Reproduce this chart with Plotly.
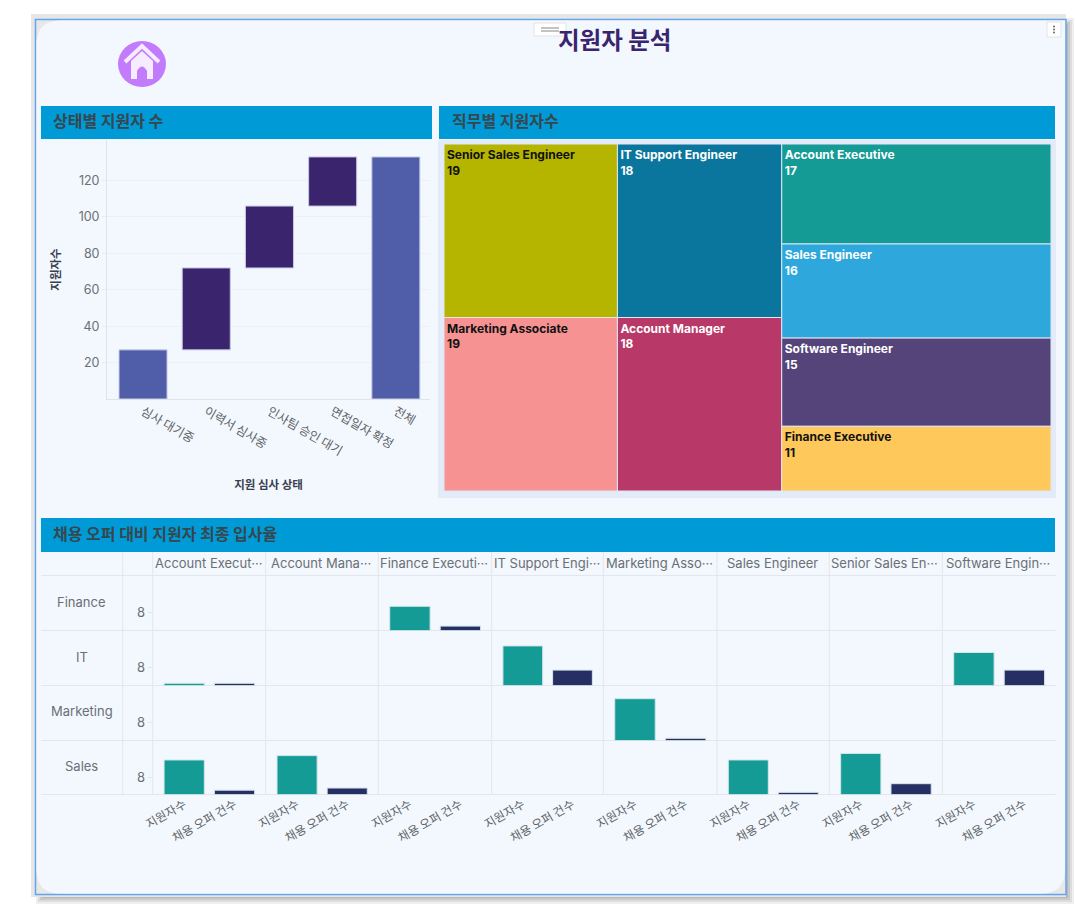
import plotly.graph_objects as go

W, H = 1076, 910
FONT = "Inter, 'Noto Sans CJK KR', sans-serif"
KR = "'Noto Sans CJK KR', Inter, sans-serif"

# ---- data ----
status_labels = ["심사 대기중", "이력서 심사중", "인사팀 승인 대기", "면접일자 확정", "전체"]
status_values = [27, 45, 34, 27, 133]
status_measure = ["absolute", "relative", "relative", "relative", "total"]

tree_groups = ["col1", "col2", "col3"]
tree_group_values = [38, 36, 59]
tree_labels = ["Senior Sales Engineer", "Marketing Associate", "IT Support Engineer", "Account Manager",
               "Account Executive", "Sales Engineer", "Software Engineer", "Finance Executive"]
tree_parents = ["col1", "col1", "col2", "col2", "col3", "col3", "col3", "col3"]
tree_values = [19, 19, 18, 18, 17, 16, 15, 11]
tree_colors = ["#b5b500", "#f79292", "#0a769d", "#b83868", "#159b96", "#2ea8dc", "#55447a", "#fec85a"]
tree_text = ["#111111", "#111111", "#ffffff", "#ffffff", "#ffffff", "#ffffff", "#ffffff", "#111111"]

departments = ["Finance", "IT", "Marketing", "Sales"]
job_titles = ["Account Execut···", "Account Mana···", "Finance Executi···", "IT Support Engi···",
              "Marketing Asso···", "Sales Engineer", "Senior Sales En···", "Software Engin···"]
metrics = ["지원자수", "채용 오퍼 건수"]
applicants = [
    [None, None, 11, None, None, None, None, None],
    [1, None, None, 18, None, None, None, 15],
    [None, None, None, None, 19, None, None, None],
    [16, 18, None, None, None, 16, 19, None],
]
offers = [
    [None, None, 2, None, None, None, None, None],
    [1, None, None, 7, None, None, None, 7],
    [None, None, None, None, 1, None, None, None],
    [2, 3, None, None, None, 1, 5, None],
]

# ---- layout geometry (pixels) ----
col_edges = [152.7, 265.7, 378.3, 491.7, 603.3, 717, 829.3, 942.3, 1055.7]
row_edges = [575.5, 630.5, 685.5, 740.5, 794.5]


def fx(px):
    return px / W


def fy(px):
    return 1 - px / H


fig = go.Figure()
layout = dict(
    width=W, height=H, margin=dict(l=0, r=0, t=0, b=0), autosize=False,
    paper_bgcolor="#ffffff", plot_bgcolor="rgba(0,0,0,0)", showlegend=False,
    font=dict(family=FONT, color="#5f6368", size=12),
    xaxis=dict(domain=[0, 1], range=[0, W], visible=False, fixedrange=True),
    yaxis=dict(domain=[0, 1], range=[H, 0], visible=False, fixedrange=True),
)
fig.add_trace(go.Scatter(x=[], y=[], xaxis="x", yaxis="y", hoverinfo="skip"))

# ---- waterfall ----
fig.add_trace(go.Waterfall(
    x=status_labels, y=status_values, measure=status_measure, xaxis="x2", yaxis="y2",
    width=0.76, connector=dict(visible=False), showlegend=False,
    increasing=dict(marker=dict(color="#3a246e", line=dict(color="#c9c6e2", width=1))),
    decreasing=dict(marker=dict(color="#3a246e", line=dict(color="#c9c6e2", width=1))),
    totals=dict(marker=dict(color="#505da8", line=dict(color="#c9cdea", width=1))),
))
layout["xaxis2"] = dict(
    domain=[fx(107), fx(430)], anchor="y2", type="category", range=[-0.57, 4.54],
    tickangle=30, tickfont=dict(size=12.2, color="#5f6368", family=KR), ticks="", showgrid=False,
    showline=True, linecolor="#dfe3ea", automargin=False, fixedrange=True,
    title=dict(text="<b>지원 심사 상태</b>", font=dict(size=11.5, color="#3a3f4f", family=KR), standoff=22),
)
layout["yaxis2"] = dict(
    domain=[fy(399), fy(140)], anchor="x2", range=[0, 142.3], tickvals=[20, 40, 60, 80, 100, 120],
    tickfont=dict(size=12.5, color="#6b6f76"), ticks="outside", ticklen=4, tickcolor="#e6e9ee",
    showgrid=True, gridcolor="#eef1f4", zeroline=False, showline=True, linecolor="#dfe3ea",
    automargin=False, fixedrange=True,
    title=dict(text="<b>지원자수</b>", font=dict(size=11.5, color="#3a3f4f", family=KR), standoff=15),
)

# ---- treemap ----
fig.add_trace(go.Treemap(
    ids=tree_groups + tree_labels,
    labels=[""] * len(tree_groups) + tree_labels,
    parents=[""] * len(tree_groups) + tree_parents,
    values=tree_group_values + tree_values,
    branchvalues="total", sort=False,
    domain=dict(x=[fx(444), fx(1051)], y=[fy(491), fy(144)]),
    texttemplate=[""] * len(tree_groups) + ["<b>%{label}<br>%{value}</b>"] * len(tree_labels),
    textposition="top left",
    textfont=dict(size=12, color=["#ffffff"] * len(tree_groups) + tree_text, family=FONT),
    marker=dict(colors=["#e3ebf8"] * len(tree_groups) + tree_colors, line=dict(color="#dfe8f3", width=1),
                pad=dict(t=0, l=0, r=0, b=0)),
    tiling=dict(packing="slice-dice", pad=0), pathbar=dict(visible=False), hoverinfo="label+value",
))

# ---- trellis ----
n = 3
for r, dept in enumerate(departments):
    for c, job in enumerate(job_titles):
        fig.add_trace(go.Bar(
            x=metrics, y=[applicants[r][c], offers[r][c]], xaxis=f"x{n}", yaxis=f"y{n}", width=0.8,
            marker=dict(color=["#159b96", "#262f63"], line=dict(color="#d5e6ea", width=1)),
            showlegend=False,
        ))
        layout[f"xaxis{n}"] = dict(
            domain=[fx(col_edges[c]), fx(col_edges[c + 1])], anchor=f"y{n}", type="category",
            categoryorder="array", categoryarray=metrics, range=[-0.626, 1.62],
            tickangle=-30, tickfont=dict(size=12, color="#5f6368", family=KR), ticks="",
            showticklabels=(r == 3), showgrid=False, showline=False, zeroline=False, automargin=False, fixedrange=True,
        )
        layout[f"yaxis{n}"] = dict(
            domain=[fy(row_edges[r + 1]), fy(row_edges[r])], anchor=f"x{n}", range=[0, 25],
            tickvals=[8], showticklabels=(c == 0), ticks="outside" if c == 0 else "", ticklen=4,
            tickcolor="#e3e6ea", tickfont=dict(size=13, color="#6b6f76"), showgrid=False, showline=False,
            zeroline=False, automargin=False, fixedrange=True,
        )
        n += 1

# ---- decoration ----
shapes = []


def rect(x0, y0, x1, y1, fill, line=None, lw=0, layer="below"):
    shapes.append(dict(type="rect", xref="x", yref="y", x0=x0, y0=y0, x1=x1, y1=y1, fillcolor=fill,
                       line=dict(color=line or fill, width=lw), layer=layer))


def seg(x0, y0, x1, y1, color="#e3e6ea", lw=1, layer="below"):
    shapes.append(dict(type="line", xref="x", yref="y", x0=x0, y0=y0, x1=x1, y1=y1,
                       line=dict(color=color, width=lw), layer=layer))


# soft drop shadow, light outer band, then the panel
for grow, shade in [(6, "#efefef"), (4, "#dddddd"), (2, "#c9c9c9"), (0, "#b8b8b8")]:
    rect(42 - grow, 24 - grow, 1068 + grow, 898 + grow, shade)
rect(31, 14, 1066, 897, "#e6e6e6")
rect(35.5, 19.5, 1066, 894.5, "#e8e8e8", "#63a4ee", 1.5)
R = 24
shapes.append(dict(type="path", xref="x", yref="y", layer="below", fillcolor="#f2f8fd", line=dict(width=0),
                   path=f"M {36.5 + R},20.5 L 1065,20.5 L 1065,{893.5 - R} "
                        f"Q 1065,893.5 {1065 - R},893.5 L {36.5 + R},893.5 Q 36.5,893.5 36.5,{893.5 - R} "
                        f"L 36.5,{20.5 + R} Q 36.5,20.5 {36.5 + R},20.5 Z"))
# headers
rect(41, 106, 432, 139, "#009bd6")
rect(439, 106, 1055, 139, "#009bd6")
rect(41, 518, 1055, 552, "#009bd6")
rect(438, 140, 1056, 498, "#e3ebf8")
# trellis grid
for y in [575.5] + row_edges[1:]:
    seg(41, y, 1055.7, y)
for x in [122.7] + col_edges[:-1]:
    seg(x, 552, x, 794.5)
# home icon
shapes.append(dict(type="circle", xref="x", yref="y", x0=118, y0=41, x1=166, y1=87, fillcolor="#c27bfc",
                   line=dict(color="#c27bfc", width=0), layer="below"))
shapes.append(dict(type="path", xref="x", yref="y", layer="below", fillcolor="#f6ecff", line=dict(width=0),
                   path="M 142,51 L 153,61 L 153,79 L 147,79 L 147,71 Q 142,62 137,71 L 137,79 L 131,79 L 131,61 Z"))
shapes.append(dict(type="path", xref="x", yref="y", layer="below", line=dict(color="#f6ecff", width=4),
                   path="M 125,62 L 142,46 L 159,62"))
# toolbar buttons
rect(534, 23, 566, 36, "#ffffff", "#e2e4e8", 1)
seg(541, 28, 559, 28, "#888888", 1)
seg(541, 31, 559, 31, "#888888", 1)
rect(1047, 22, 1061, 37, "#ffffff", "#e2e4e8", 1)
for yy in (26.5, 29.5, 32.5):
    shapes.append(dict(type="circle", xref="x", yref="y", x0=1053, x1=1055, y0=yy - 1, y1=yy + 1,
                       fillcolor="#666666", line=dict(width=0), layer="below"))
layout["shapes"] = shapes

# ---- texts ----
ann = []


def text(x, y, t, size, color, anchor="left", family=FONT):
    ann.append(dict(text=t, xref="x", yref="y", x=x, y=y, showarrow=False, xanchor=anchor, yanchor="middle",
                    font=dict(size=size, color=color, family=family)))


text(614, 38.5, "<b>지원자 분석</b>", 23.5, "#3a246e", "center", KR)
text(51, 120, "<b>상태별 지원자 수</b>", 16, "#37474f", "left", KR)
text(450, 120, "<b>직무별 지원자수</b>", 16, "#37474f", "left", KR)
text(51, 533, "<b>채용 오퍼 대비 지원자 최종 입사율</b>", 16, "#37474f", "left", KR)
for c, job in enumerate(job_titles):
    text((col_edges[c] + col_edges[c + 1]) / 2 - 1, 563, job, 13, "#6b6f76", "center")
for dept, y in zip(departments, [602, 657, 711, 765.5]):
    text(81.5, y, dept, 13, "#6b6f76", "center")
layout["annotations"] = ann

fig.update_layout(**layout)
fig.write_html("out.html", config=dict(displayModeBar=False),
               post_script="document.body.style.margin='0';document.body.style.overflow='hidden';")
